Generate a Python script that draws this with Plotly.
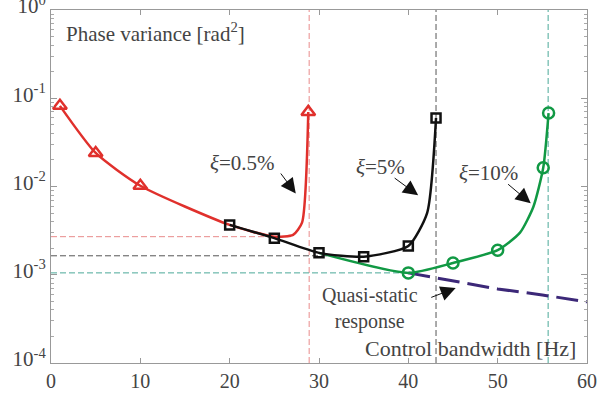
import plotly.graph_objects as go
import math

# ---- data ----
red_x = [1, 5, 10, 20, 25, 27.1, 28.1, 28.8]
red_y = [0.082, 0.024, 0.0102, 0.00367, 0.0027, 0.00283, 0.0039, 0.070]
red_mx = [1, 5, 10, 28.8]
red_my = [0.082, 0.024, 0.0102, 0.070]

blk_x = [20, 25, 30, 35, 40, 42.1, 43.1]
blk_y = [0.00367, 0.0026, 0.00177, 0.0016, 0.00212, 0.0050, 0.0598]
blk_mx = [20, 25, 30, 35, 40, 43.1]
blk_my = [0.00367, 0.0026, 0.00177, 0.0016, 0.00212, 0.0598]

grn_x = [30, 40, 45, 50, 52.5, 54.0, 55.1, 55.7]
grn_y = [0.00177, 0.00105, 0.00136, 0.0019, 0.003, 0.0059, 0.0163, 0.068]
grn_mx = [40, 45, 50, 55.1, 55.7]
grn_my = [0.00105, 0.00136, 0.0019, 0.0163, 0.068]

qs_x = [40, 45, 50, 55, 60]
qs_y = [0.00105, 0.00085, 0.00069, 0.00059, 0.000493]

# reference levels: (bandwidth limit, min variance, x where horizontal ends)
ref_bw = [28.9, 43.1, 55.65]
ref_min = [0.0027, 0.00164, 0.00105]
ref_end = [27.0, 31.0, 40.0]
ref_col = ["#e98a8a", "#555555", "#4aa898"]

x_ticks = [0, 10, 20, 30, 40, 50, 60]
y_ticks = [1e-4, 1e-3, 1e-2, 1e-1, 1]
y_ticktext = ["10<sup>-4</sup>", "10<sup>-3</sup>", "10<sup>-2</sup>", "10<sup>-1</sup>", "10<sup>0</sup>"]
y_minor = [m * 10.0 ** e for e in range(-4, 0) for m in range(2, 10)]

RED = "#e0302c"
BLK = "#111111"
GRN = "#119944"
PUR = "#3c2878"
TXT = "#444444"
FONT = "Liberation Serif"

fig = go.Figure()

for bw, mn, xe, c in zip(ref_bw, ref_min, ref_end, ref_col):
    fig.add_trace(go.Scatter(x=[0, xe], y=[mn, mn], mode="lines",
                             line=dict(color=c, width=1, dash="6px,3px"), hoverinfo="skip"))
    fig.add_trace(go.Scatter(x=[bw, bw], y=[1e-4, 1], mode="lines",
                             line=dict(color=c, width=1, dash="6px,3px"), hoverinfo="skip"))

fig.add_trace(go.Scatter(x=qs_x, y=qs_y, mode="lines",
                         line=dict(color=PUR, width=3, dash="22px,8px")))

fig.add_trace(go.Scatter(x=red_x, y=red_y, mode="lines",
                         line=dict(color=RED, width=2.5, shape="spline", smoothing=0.6)))
fig.add_trace(go.Scatter(x=red_mx, y=red_my, mode="markers",
                         marker=dict(symbol="triangle-up-open", size=12, color=RED,
                                     line=dict(width=2.5, color=RED))))

fig.add_trace(go.Scatter(x=grn_x, y=grn_y, mode="lines",
                         line=dict(color=GRN, width=2.5, shape="spline", smoothing=0.6)))
fig.add_trace(go.Scatter(x=grn_mx, y=grn_my, mode="markers",
                         marker=dict(symbol="circle-open", size=11, color=GRN,
                                     line=dict(width=2.5, color=GRN))))

fig.add_trace(go.Scatter(x=blk_x, y=blk_y, mode="lines",
                         line=dict(color=BLK, width=2.5, shape="spline", smoothing=0.6)))
fig.add_trace(go.Scatter(x=blk_mx, y=blk_my, mode="markers",
                         marker=dict(symbol="square-open", size=9, color=BLK,
                                     line=dict(width=2.5, color=BLK))))

# invisible trace to activate the minor-tick axis
fig.add_trace(go.Scatter(x=[0], y=[1e-4], yaxis="y2", mode="markers",
                         marker=dict(opacity=0), hoverinfo="skip"))

L = math.log10

def arrow(x0, y0, x1, y1):
    fig.add_annotation(x=x1, y=L(y1), ax=x0, ay=L(y0), xref="x", yref="y",
                       axref="x", ayref="y", text="", showarrow=True,
                       arrowhead=2, arrowsize=3, arrowwidth=1, arrowcolor="#111")

arrow(25.6, 10**-1.836, 27.4, 10**-2.08)
arrow(38.3, 10**-1.892, 41.1, 10**-2.10)
arrow(51.0, 10**-1.96, 53.7, 10**-2.19)
arrow(42.4, 10**-3.263, 45.3, 10**-3.15)

def label(x, y, t, xa="center", size=21):
    fig.add_annotation(x=x, y=L(y), xref="x", yref="y", text=t, showarrow=False,
                       xanchor=xa, yanchor="middle",
                       font=dict(family=FONT, size=size, color=TXT))

label(21.4, 10**-1.734, "<i>ξ</i>=0.5%")
label(36.9, 10**-1.78, "<i>ξ</i>=5%")
label(49.0, 10**-1.847, "<i>ξ</i>=10%")
label(35.7, 10**-3.38, "Quasi-static<br>response", size=20)
label(1.5, 10**-0.26, "Phase variance [rad<sup>2</sup>]", xa="left", size=21)
label(59.0, 10**-3.84, "Control bandwidth [Hz]", xa="right", size=22)

fig.update_layout(
    width=597, height=398,
    margin=dict(l=51, r=10, t=10, b=35),
    paper_bgcolor="white", plot_bgcolor="white",
    showlegend=False,
    font=dict(family=FONT, color=TXT, size=19),
    xaxis=dict(range=[0, 60], tickvals=x_ticks, showgrid=False, zeroline=False,
               automargin=False, ticklabeloverflow="allow",
               showline=True, linecolor="#999", linewidth=1, mirror="ticks",
               ticks="inside", ticklen=5, tickcolor="#999",
               tickfont=dict(family=FONT, size=20, color=TXT)),
    yaxis=dict(type="log", range=[-4, 0], tickvals=y_ticks, ticktext=y_ticktext,
               showgrid=False, zeroline=False, automargin=False, ticklabeloverflow="allow",
               ticklabelshift=-4,
               showline=True, linecolor="#999", linewidth=1, mirror="ticks",
               ticks="inside", ticklen=6, tickcolor="#999",
               tickfont=dict(family=FONT, size=21, color=TXT)),
    yaxis2=dict(type="log", range=[-4, 0], overlaying="y", tickvals=y_minor,
                showticklabels=False, showgrid=False, zeroline=False, automargin=False,
                showline=False, mirror="ticks", ticks="inside", ticklen=3,
                tickcolor="#aaa"),
)

fig.write_html("out.html", config={"displayModeBar": False},
               post_script="document.body.style.margin='0';document.body.style.overflow='hidden';")
